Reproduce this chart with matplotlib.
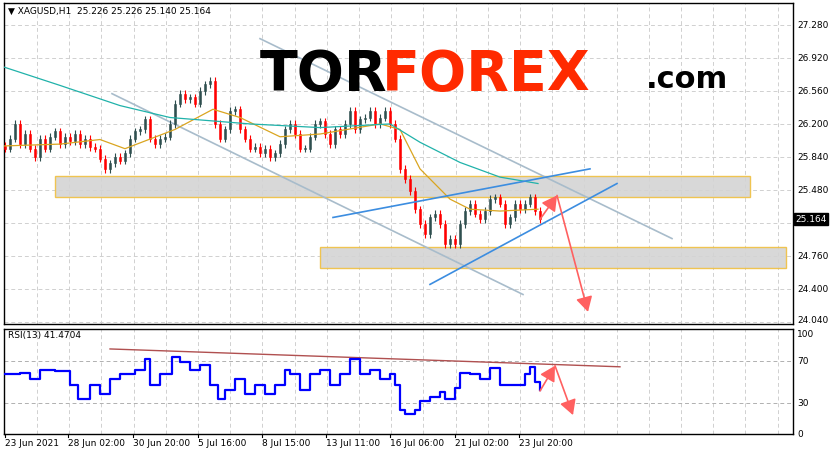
import matplotlib.pyplot as plt
from matplotlib.patches import Rectangle
import numpy as np

W, H = 834, 456

# hourly closes (sampled), XAGUSD H1
closes = [25.93, 26.04, 26.20, 25.98, 26.09, 25.93, 25.84, 26.04, 25.93, 26.06,
          26.12, 25.98, 26.06, 26.01, 26.09, 25.98, 26.04, 25.95, 25.93, 25.82,
          25.71, 25.77, 25.84, 25.80, 25.88, 26.04, 26.12, 26.14, 26.25, 26.04,
          25.98, 26.04, 26.06, 26.20, 26.42, 26.53, 26.47, 26.49, 26.42, 26.56,
          26.63, 26.67, 26.20, 26.04, 26.14, 26.34, 26.36, 26.14, 26.04, 25.93,
          25.95, 25.88, 25.93, 25.84, 25.88, 25.98, 26.14, 26.20, 26.09, 25.93,
          25.93, 26.06, 26.20, 26.23, 26.09, 25.98, 26.14, 26.09, 26.20, 26.34,
          26.14, 26.25, 26.27, 26.34, 26.20, 26.27, 26.34, 26.20, 26.04, 25.71,
          25.60, 25.47, 25.27, 25.11, 25.00, 25.18, 25.22, 25.11, 24.89, 24.95,
          24.89, 25.11, 25.25, 25.33, 25.22, 25.16, 25.25, 25.38, 25.40, 25.33,
          25.11, 25.18, 25.33, 25.27, 25.33, 25.40, 25.25, 25.164]

ma_x = [4, 60, 100, 125, 175, 213, 240, 280, 320, 380, 400, 420, 450, 470, 500, 538]
ma_fast = [25.96, 25.98, 26.03, 25.93, 26.14, 26.36, 26.27, 26.06, 26.09, 26.20,
           26.14, 25.71, 25.38, 25.27, 25.25, 25.27]
ma_slow_x = [4, 60, 120, 170, 250, 320, 390, 420, 460, 500, 538]
ma_slow = [26.82, 26.62, 26.40, 26.27, 26.20, 26.16, 26.20, 26.00, 25.78, 25.62, 25.55]

rsi_x = [5, 20, 30, 40, 55, 70, 78, 90, 100, 110, 120, 135, 145, 150, 160, 172, 180,
         190, 200, 210, 218, 225, 235, 245, 255, 265, 275, 285, 290, 300, 310, 320,
         330, 340, 350, 360, 370, 380, 390, 395, 400, 405, 415, 420, 430, 440, 445,
         455, 460, 470, 480, 490, 500, 510, 520, 525, 530, 535, 540]
rsi = [57, 58, 52, 61, 60, 47, 33, 47, 38, 52, 57, 61, 71, 47, 57, 73, 69, 61, 66,
       47, 33, 42, 52, 38, 47, 38, 47, 61, 57, 42, 57, 61, 47, 57, 71, 57, 61, 52,
       57, 47, 23, 19, 23, 31, 35, 40, 33, 44, 58, 57, 52, 63, 47, 47, 47, 57, 64,
       50, 41.47]

price_ticks = [24.040, 24.400, 24.760, 25.120, 25.480, 25.840, 26.200, 26.560, 26.920, 27.280]
date_pos = [5, 68, 133, 198, 262, 326, 390, 455, 519]
date_labels = ["23 Jun 2021", "28 Jun 02:00", "30 Jun 20:00", "5 Jul 16:00", "8 Jul 15:00",
               "13 Jul 11:00", "16 Jul 06:00", "21 Jul 02:00", "23 Jul 20:00"]

plt.rcParams["font.family"] = "DejaVu Sans"
fig = plt.figure(figsize=(W / 100, H / 100), dpi=100)


def box(x0, y0, x1, y1):
    return [x0 / W, 1 - y1 / H, (x1 - x0) / W, (y1 - y0) / H]


px = 91.7
ax = fig.add_axes(box(4, 4, 793, 325))
ax.set_xlim(4, 793)
ax.set_ylim(24.040 - 2 / px, 24.040 + 319 / px)
rx = fig.add_axes(box(4, 330, 793, 435))
rx.set_xlim(4, 793)
rx.set_ylim(0, 100)

grid_x = np.arange(5 + 32, 793, 32.2)
for a in (ax, rx):
    for g in grid_x:
        a.axvline(g, color="#d0d0d0", ls=(0, (4, 3)), lw=0.7, zorder=0)
    a.set_xticks([])
    a.set_yticks([])
    for s in a.spines.values():
        s.set_color("black")
        s.set_linewidth(1.0)
for t in price_ticks:
    ax.axhline(t, color="#d0d0d0", ls=(0, (4, 3)), lw=0.7, zorder=0)
for t in (30, 70):
    rx.axhline(t, color="#b0b0b0", ls=(0, (4, 3)), lw=0.7, zorder=0)

# zones
ax.add_patch(Rectangle((55, 25.40), 695, 0.23, fc="#d4d4d4", ec="#f0c040", lw=1, alpha=0.9, zorder=1))
ax.add_patch(Rectangle((320, 24.63), 466, 0.23, fc="#d4d4d4", ec="#f0c040", lw=1, alpha=0.9, zorder=1))

# candles
xs = 5 + 5 * np.arange(len(closes))
opens = [closes[0] + 0.03] + closes[:-1]
for x, o, c in zip(xs, opens, closes):
    col = "#2f4f4f" if c >= o else "#ff0000"
    ax.vlines(x, min(o, c) - 0.04, max(o, c) + 0.04, color=col, lw=0.8, zorder=3)
    ax.add_patch(Rectangle((x - 1, min(o, c)), 2, max(abs(c - o), 0.01), fc=col, ec=col, lw=0.4, zorder=3))

ax.plot(ma_x, ma_fast, color="#daa520", lw=0.9, zorder=4)
ax.plot(ma_slow_x, ma_slow, color="#20b2aa", lw=0.9, zorder=4)

# channel lines
ax.plot([112, 523], [26.53, 24.34], color="#a8bccb", lw=1.2, zorder=2)
ax.plot([260, 672], [27.13, 24.95], color="#a8bccb", lw=1.2, zorder=2)
ax.plot([333, 590], [25.18, 25.71], color="#3c8de0", lw=1.2, zorder=5)
ax.plot([430, 617], [24.45, 25.55], color="#3c8de0", lw=1.2, zorder=5)


def arrows(a, pts):
    for (x0, y0), (x1, y1) in zip(pts[:-1], pts[1:]):
        a.annotate("", xy=(x1, y1), xytext=(x0, y0),
                   arrowprops=dict(arrowstyle="-|>,head_length=0.9,head_width=0.5",
                                   color="#ff6060", lw=1.2, shrinkA=0, shrinkB=0), zorder=6)


arrows(ax, [(540, 25.16), (557, 25.42), (588, 24.15)])

# logo
fig.text(260 / W, 1 - 90 / H, "TOR", fontsize=40, fontweight="heavy", color="black")
fig.text(382 / W, 1 - 90 / H, "FOREX", fontsize=40, fontweight="heavy", color="#ff2a00")
fig.text(646 / W, 1 - 88 / H, ".com", fontsize=22, fontweight="bold", color="black")

# rsi
rx.step(rsi_x, rsi, where="post", color="#0000ff", lw=1.6, zorder=3)
rx.plot([110, 620], [81, 64], color="#b05050", lw=1.0, zorder=2)
arrows(rx, [(540, 41), (555, 65), (573, 18)])

# labels
for t in price_ticks:
    if t != 25.120:
        ax.text(797, t + (0.03 if t == 24.040 else 0), f"{t:.3f}", fontsize=6.5,
                va="center", ha="left", clip_on=False)
ax.text(795, 25.164, "25.164", fontsize=6.5, va="center", ha="left", color="white",
        bbox=dict(fc="black", ec="black", pad=1), clip_on=False)
for t in (100, 70, 30, 0):
    rx.text(797, t - (4 if t == 100 else 0), str(t), fontsize=6.5, va="center", ha="left", clip_on=False)
for p, lab in zip(date_pos, date_labels):
    fig.text(p / W, 1 - 444 / H, lab, fontsize=6.5, va="center", ha="left")
    fig.add_artist(plt.Line2D([p / W, p / W], [1 - 435 / H, 1 - 438 / H], color="black", lw=0.8))

fig.text(8 / W, 1 - 11 / H, "▼ XAGUSD,H1  25.226 25.226 25.140 25.164", fontsize=6.5, va="center")
fig.text(8 / W, 1 - 336 / H, "RSI(13) 41.4704", fontsize=6.5, va="center")

fig.savefig("out.png", dpi=100)
